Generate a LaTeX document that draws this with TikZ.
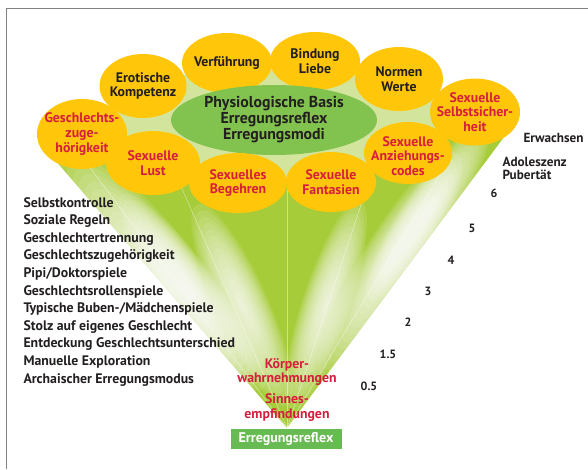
\documentclass[tikz,border=0pt]{standalone}
\usepackage{fontspec}
\setmainfont{PT Sans}
\usetikzlibrary{shapes}
\usetikzlibrary{positioning}
\definecolor{gelb}{RGB}{255,198,10}
\definecolor{fangruen}{RGB}{166,204,58}
\definecolor{basisgruen}{RGB}{130,194,78}
\definecolor{boxgruen}{RGB}{104,187,82}
\definecolor{rot}{RGB}{215,30,62}
\definecolor{schrift}{RGB}{35,31,32}
\definecolor{rahmen}{RGB}{130,130,130}
\tikzset{
	blase/.style={ellipse,fill=gelb,inner sep=0pt},
	rottext/.style={text=rot,align=center,font=\bfseries\fontsize{13.8}{14.8}\selectfont},
	schwarztext/.style={text=schrift,align=center,font=\bfseries\fontsize{13.8}{14.8}\selectfont},
	liste/.style={text=schrift,align=left,font=\bfseries\fontsize{13.8}{17.6}\selectfont},
	alter/.style={text=schrift,font=\bfseries\fontsize{13.2}{12.5}\selectfont},
	zahl/.style={text=schrift,font=\bfseries\fontsize{12}{12}\selectfont},
	strahl/.style={draw=white,draw opacity=0.45,line width=0.6pt},
	glanz/.style={fill=white,fill opacity=0.1}
}

\begin{document}
\begin{tikzpicture}[x=1pt,y=-1pt]
	\useasboundingbox (0,0) rectangle (588,469);
	\draw[rahmen,line width=1pt] (6,469) -- (6,8) -- (588,8);
	\coordinate (spitze) at (287,428);
	\coordinate (r1) at (84,160);
	\coordinate (r2) at (176,175);
	\coordinate (r3) at (287,190);
	\coordinate (r4) at (371,175);
	\coordinate (r5) at (449,160);
	% hintergrund zwischen den blasen
	\fill[fangruen!50!white] (82,134) -- (143,86) -- (227,63) -- (315,61) -- (399,79) -- (475,112) -- (408,153) -- (331,182) -- (238,183) -- (153,163) -- cycle;
	% trichter
	\fill[fangruen] (spitze) -- (42,145) -- (82,134) -- (153,163) -- (238,183) -- (331,182) -- (408,153) -- (475,112) -- (513,125) -- cycle;
	\begin{scope}
		\clip (spitze) -- (42,145) -- (82,134) -- (153,163) -- (238,183) -- (331,182) -- (408,153) -- (475,112) -- (513,125) -- cycle;
		\foreach \gx/\gy/\winkel/\lang/\breit in {158/272/128/150/40, 192/292/126/120/26, 242/305/114/110/26, 326/305/72/110/24, 390/265/59/130/30, 428/212/56/105/24}
			\foreach \k in {1,...,16}
				\fill[glanz,rotate around={\winkel:(\gx,\gy)}] (\gx,\gy) ellipse ({\lang*\k/16} and {\breit*\k/16});
	\end{scope}
	\foreach \r in {r1,r2,r3,r4,r5}
		\draw[strahl] (spitze) -- (\r);
	% hintere blasen
	\node[blase,minimum width=87,minimum height=64,label={[schwarztext]center:Erotische\\Kompetenz}] (erotik) at (143,86) {};
	\node[blase,minimum width=90,minimum height=60,label={[schwarztext]center:Verführung}] (verfuehrung) at (227,63) {};
	\node[blase,minimum width=90,minimum height=58,label={[schwarztext]center:Bindung\\Liebe}] (bindung) at (315,61) {};
	\node[blase,minimum width=88,minimum height=64,label={[schwarztext]center:Normen\\Werte}] (normen) at (399,79) {};
	\node[blase,minimum width=90,minimum height=70,label={[rottext]center:Geschlechts-\\zuge-\\hörigkeit}] (geschlecht) at (82,134) {};
	% basis
	\node[ellipse,fill=basisgruen,minimum width=206,minimum height=70,inner sep=0pt,label={[text=schrift,align=center,font=\bfseries\fontsize{15.8}{16}\selectfont]center:Physiologische Basis\\Erregungsreflex\\Erregungsmodi}] (basis) at (274,120) {};
	% vordere blasen
	\node[blase,minimum width=90,minimum height=67,label={[rottext]center:Sexuelle\\Selbstsicher-\\heit}] (selbst) at (475,112) {};
	\node[blase,minimum width=94,minimum height=64,label={[rottext]center:Sexuelle\\Lust}] (lust) at (153,163) {};
	\node[blase,minimum width=98,minimum height=60,label={[rottext]center:Sexuelles\\Begehren}] (begehren) at (238,183) {};
	\node[blase,minimum width=90,minimum height=60,label={[rottext]center:Sexuelle\\Fantasien}] (fantasien) at (331,182) {};
	\node[blase,minimum width=88,minimum height=62,label={[rottext,yshift=-3]center:Sexuelle\\Anziehungs-\\codes}] (anziehung) at (408,153) {};
	% entwicklung links
	\node[liste,anchor=base west] (liste) at (20,383) {Selbstkontrolle\\Soziale Regeln\\Geschlechtertrennung\\Geschlechtszugehörigkeit\\Pipi/Doktorspiele\\Geschlechtsrollenspiele\\Typische Buben-/Mädchenspiele\\Stolz auf eigenes Geschlecht\\Entdeckung Geschlechtsunterschied\\Manuelle Exploration\\Archaischer Erregungsmodus};
	% alter rechts
	\node[alter,anchor=west] (erwachsen) at (520,138) {Erwachsen};
	\node[alter,anchor=north west,align=left] (jugend) at (499,154) {Adoleszenz\\Pubertät};
	\node[zahl] (z6) at (494,193) {6};
	\node[zahl] (z5) at (472,228) {5};
	\node[zahl] (z4) at (451,260) {4};
	\node[zahl] (z3) at (428,291) {3};
	\node[zahl] (z2) at (408,322) {2};
	\node[zahl] (z15) at (388,354) {1.5};
	\node[zahl] (z05) at (369,386) {0.5};
	% unten
	\node[rottext] (koerper) at (287,372) {Körper-\\wahrnehmungen};
	\node[rottext,below=1pt of koerper] (sinne) {Sinnes-\\empfindungen};
	\node[fill=boxgruen,text=white,font=\bfseries\fontsize{14}{14}\selectfont,minimum width=111,minimum height=20,inner sep=0pt] (reflex) at (286,439) {Erregungsreflex};
\end{tikzpicture}
\end{document}
